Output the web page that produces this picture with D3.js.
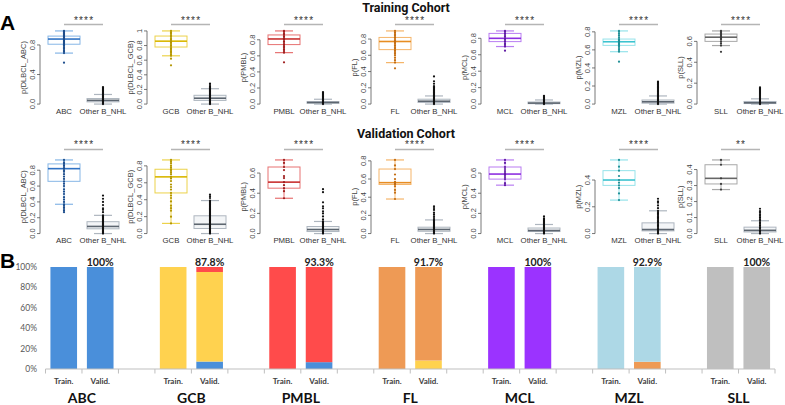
<!DOCTYPE html>
<html><head><meta charset="utf-8">
<script src="https://cdn.jsdelivr.net/npm/d3@7"></script>
<style>body{margin:0;background:#fff}svg{display:block}</style>
</head><body><svg id="c" width="785" height="405"></svg>
<script>
// ---------------- DATA ----------------
const classes = ["ABC","GCB","PMBL","FL","MCL","MZL","SLL"];
const otherLabel = "Other B_NHL";
const yTitles = ["p(DLBCL_ABC)","p(DLBCL_GCB)","p(PMBL)","p(FL)","p(MCL)","p(MZL)","p(SLL)"];
const trainSig = ["****","****","****","****","****","****","****"];
const validSig = ["****","****","****","****","****","****","**"];
const trainTicks = [
  ["0.0","0.4","0.8"],
  ["0.0","0.2","0.4","0.6","0.8","1"],
  ["0.0","0.2","0.4","0.6","0.8"],
  ["0.0","0.2","0.4","0.6","0.8"],
  ["0.0","0.2","0.4","0.6","0.8"],
  ["0.0","0.2","0.4","0.6","0.8"],
  ["0.0","0.2","0.4","0.6"]];
const validTicks = [
  ["0.0","0.2","0.4","0.6","0.8"],
  ["0.0","0.2","0.4","0.6","0.8"],
  ["0.0","0.2","0.4","0.6"],
  ["0.0","0.2","0.4","0.6","0.8"],
  ["0.0","0.2","0.4","0.6"],
  ["0.0","0.2","0.4"],
  ["0.0","0.1","0.2","0.3","0.4"]];
// box stats: [whiskerLow, q1, median, q3, whiskerHigh]
const trainBoxTarget = [[0.69,0.81,0.88,0.92,0.99],[0.66,0.78,0.86,0.93,1.00],[0.64,0.74,0.81,0.86,0.91],[0.51,0.67,0.77,0.82,0.90],[0.70,0.76,0.80,0.86,0.89],[0.58,0.65,0.69,0.72,0.81],[0.56,0.60,0.64,0.67,0.70]];
const trainBoxOther  = [[0,0.03,0.05,0.075,0.13],[0,0.05,0.08,0.12,0.21],[0,0.01,0.02,0.03,0.06],[0,0.02,0.035,0.06,0.10],[0,0.005,0.012,0.025,0.05],[0,0.01,0.025,0.045,0.09],[0,0.005,0.012,0.025,0.05]];
const validBoxTarget = [[0.37,0.66,0.82,0.88,0.93],[0.12,0.48,0.67,0.76,0.87],[0.35,0.45,0.51,0.66,0.73],[0.38,0.54,0.56,0.71,0.81],[0.48,0.54,0.59,0.66,0.73],[0.25,0.36,0.40,0.47,0.55],[0.275,0.31,0.345,0.43,0.46]];
const validBoxOther  = [[0,0.06,0.09,0.15,0.23],[0,0.06,0.11,0.21,0.39],[0,0.02,0.04,0.07,0.12],[0,0.025,0.045,0.07,0.15],[0,0.02,0.03,0.055,0.09],[0,0.02,0.03,0.08,0.17],[0,0.01,0.02,0.04,0.08]];
// individual sample points
const trainPtsTarget = [
 [0.56,0.69,0.71,0.73,0.75,0.77,0.79,0.80,0.81,0.82,0.83,0.84,0.85,0.86,0.87,0.88,0.89,0.90,0.91,0.92,0.93,0.94,0.95,0.96,0.97,0.98,0.99],
 [0.53,0.62,0.66,0.68,0.70,0.72,0.74,0.76,0.78,0.80,0.82,0.84,0.86,0.88,0.90,0.92,0.94,0.96,0.98,1.00],
 [0.52,0.64,0.66,0.68,0.70,0.72,0.74,0.76,0.78,0.80,0.81,0.82,0.84,0.86,0.88,0.90,0.91],
 [0.44,0.51,0.54,0.57,0.60,0.62,0.64,0.66,0.68,0.70,0.72,0.74,0.76,0.77,0.78,0.80,0.82,0.84,0.86,0.88,0.90],
 [0.65,0.70,0.72,0.74,0.76,0.78,0.80,0.82,0.84,0.86,0.88,0.89],
 [0.47,0.58,0.60,0.62,0.64,0.65,0.66,0.67,0.68,0.69,0.70,0.71,0.72,0.74,0.76,0.78,0.80,0.81],
 [0.50,0.56,0.58,0.60,0.62,0.63,0.64,0.65,0.66,0.67,0.68,0.69,0.70]];
const trainPtsOther = [
 [0,0.01,0.02,0.03,0.04,0.05,0.06,0.07,0.08,0.09,0.10,0.11,0.12,0.13,0.14,0.15,0.16,0.17,0.18,0.19,0.20,0.21,0.22,0.23],
 [0,0.01,0.02,0.03,0.04,0.05,0.06,0.07,0.08,0.09,0.10,0.11,0.12,0.13,0.14,0.15,0.16,0.17,0.18,0.19,0.20,0.21,0.22,0.23,0.24,0.26,0.28],
 [0,0.01,0.02,0.03,0.04,0.05,0.06,0.07,0.08,0.09,0.10,0.11,0.12,0.13,0.14,0.15],
 [0,0.01,0.02,0.03,0.04,0.05,0.06,0.07,0.08,0.09,0.10,0.11,0.12,0.13,0.14,0.15,0.16,0.17,0.18,0.19,0.20,0.21,0.22,0.25,0.28,0.34],
 [0,0.01,0.02,0.03,0.04,0.05,0.06,0.07,0.08,0.09,0.10],
 [0,0.01,0.02,0.03,0.04,0.05,0.06,0.07,0.08,0.09,0.10,0.11,0.12,0.13,0.14,0.15,0.16,0.17,0.18,0.19,0.20,0.21,0.22,0.23,0.24,0.25],
 [0,0.01,0.02,0.03,0.04,0.05,0.06,0.07,0.08,0.09,0.10,0.11,0.12,0.13,0.14,0.15,0.16]];
const validPtsTarget = [
 [0.27,0.29,0.31,0.33,0.35,0.37,0.40,0.43,0.46,0.50,0.53,0.56,0.60,0.63,0.66,0.69,0.72,0.75,0.78,0.80,0.82,0.84,0.86,0.88,0.90,0.93],
 [0.12,0.20,0.27,0.30,0.33,0.38,0.42,0.45,0.48,0.52,0.55,0.58,0.62,0.65,0.67,0.70,0.72,0.74,0.76,0.78,0.80,0.83,0.85,0.87],
 [0.35,0.42,0.45,0.48,0.51,0.55,0.57,0.63,0.66,0.70,0.73],
 [0.38,0.45,0.48,0.52,0.54,0.55,0.56,0.57,0.60,0.65,0.71,0.75,0.81],
 [0.48,0.50,0.54,0.56,0.58,0.59,0.60,0.62,0.64,0.66,0.70,0.73],
 [0.25,0.30,0.34,0.36,0.38,0.40,0.43,0.47,0.50,0.55],
 [0.275,0.31,0.345,0.43,0.46]];
const validPtsOther = [
 [0,0.01,0.02,0.03,0.04,0.05,0.06,0.07,0.08,0.09,0.10,0.11,0.12,0.13,0.14,0.15,0.16,0.17,0.18,0.19,0.20,0.21,0.22,0.23,0.27,0.30,0.32,0.36,0.40,0.44,0.48],
 [0,0.01,0.02,0.03,0.04,0.05,0.06,0.07,0.08,0.09,0.10,0.11,0.12,0.13,0.14,0.15,0.16,0.17,0.18,0.19,0.20,0.21,0.22,0.23,0.24,0.25,0.26,0.27,0.28,0.29,0.30,0.31,0.32,0.33,0.34,0.35,0.36,0.37,0.38,0.39,0.42,0.44,0.46],
 [0,0.01,0.02,0.03,0.04,0.05,0.06,0.07,0.08,0.09,0.10,0.11,0.12,0.14,0.17,0.20,0.22,0.25,0.27,0.31,0.41,0.44],
 [0,0.01,0.02,0.03,0.04,0.05,0.06,0.07,0.08,0.09,0.10,0.11,0.12,0.13,0.14,0.15,0.17,0.19,0.21,0.23,0.26,0.28,0.30],
 [0,0.01,0.02,0.03,0.04,0.05,0.06,0.07,0.08,0.09,0.10,0.11,0.12,0.13,0.14,0.15,0.17],
 [0,0.01,0.02,0.03,0.04,0.05,0.06,0.07,0.08,0.09,0.10,0.11,0.12,0.13,0.14,0.15,0.16,0.17,0.19,0.21,0.23,0.24,0.26],
 [0,0.01,0.02,0.03,0.04,0.05,0.06,0.07,0.08,0.09,0.10,0.11,0.12,0.13,0.14,0.155]];
// panel B: stacked composition of predictions (series order = classes)
const cohorts = ["Train.","Valid."];
const trainShares = [
 [1,0,0,0,0,0,0],[0,1,0,0,0,0,0],[0,0,1,0,0,0,0],[0,0,0,1,0,0,0],[0,0,0,0,1,0,0],[0,0,0,0,0,1,0],[0,0,0,0,0,0,1]];
const validShares = [
 [1,0,0,0,0,0,0],
 [0.073,0.878,0.049,0,0,0,0],
 [0.067,0,0.933,0,0,0,0],
 [0,0.083,0,0.917,0,0,0],
 [0,0,0,0,1,0,0],
 [0,0,0,0.071,0,0.929,0],
 [0,0,0,0,0,0,1]];
const validAccLabels = ["100%","87.8%","93.3%","91.7%","100%","92.9%","100%"];
const barTickLabels = ["0%","20%","40%","60%","80%","100%"];

// ---------------- STYLE ----------------
const barColors = ["#4A8FDA","#FFD24F","#FF4B4B","#EE9A55","#9B33FF","#ADD8E6","#BFBFBF"];
const boxLight  = ["#86b6e6","#ecd24a","#e77272","#f5b56a","#b97df2","#95e3ea","#a8a8a8"];
const boxDark   = ["#2f72c4","#d9b700","#c8302f","#e78d23","#8d2fe0","#3cc3cf","#666666"];
const ptDark    = ["#1d4d8c","#b39600","#9e1d1d","#c36c12","#5f1aa3","#1f8f96","#3a3a3a"];

const svg = d3.select("#c");
const RF = "'Liberation Sans', Arial, sans-serif";
const CF = "Lato, 'Open Sans', sans-serif";
const TF = "Roboto, 'Liberation Sans', sans-serif";

const panelAxisX = [40,147,260,371,481,595,697];
const rows = [
  {title:"Training Cohort", titleY:11.8, top:28, bottom:107, labY:114, sigY:24.5, sigText:24,
   boxT:trainBoxTarget, boxO:trainBoxOther, ptsT:trainPtsTarget, ptsO:trainPtsOther, ticks:trainTicks, sig:trainSig},
  {title:"Validation Cohort", titleY:137.5, top:157, bottom:236.5, labY:243, sigY:149.5, sigText:148,
   boxT:validBoxTarget, boxO:validBoxOther, ptsT:validPtsTarget, ptsO:validPtsOther, ticks:validTicks, sig:validSig}
];

svg.append("text").attr("x",0).attr("y",30).attr("font-family",RF).attr("font-weight","bold")
  .attr("font-size",21).text("A");
svg.append("text").attr("x",0).attr("y",268).attr("font-family",RF).attr("font-weight","bold")
  .attr("font-size",21).text("B");

rows.forEach(row => {
  svg.append("text").attr("x",406).attr("y",row.titleY).attr("text-anchor","middle")
    .attr("font-family",TF).attr("font-weight","bold").attr("font-size",12.5).attr("fill","#111")
    .text(row.title);
  classes.forEach((cls,i) => {
    const ax = panelAxisX[i];
    const g = svg.append("g");
    const all = row.ptsT[i].concat(row.ptsO[i], row.boxT[i], row.boxO[i]);
    const ext = d3.extent(all), r = ext[1]-ext[0];
    const y = d3.scaleLinear().domain([ext[0]-0.04*r, ext[1]+0.04*r]).range([row.bottom,row.top]);
    const x = d3.scalePoint().domain([cls, otherLabel]).range([ax+24, ax+63]);
    const bw = 32, cw = 18;
    const groups = [
      {k:cls, box:row.boxT[i], pts:row.ptsT[i], light:boxLight[i], dark:boxDark[i], pt:ptDark[i], fill:"#ffffff"},
      {k:otherLabel, box:row.boxO[i], pts:row.ptsO[i], light:"#aeb6bf", dark:"#5d6670", pt:"#111111", fill:"#f3f5f7"}
    ];
    groups.forEach(d => {
      const cx = x(d.k), b = d.box;
      g.append("line").attr("x1",cx).attr("x2",cx).attr("y1",y(b[3])).attr("y2",y(b[4])).attr("stroke",d.light).attr("stroke-width",1);
      g.append("line").attr("x1",cx).attr("x2",cx).attr("y1",y(b[1])).attr("y2",y(b[0])).attr("stroke",d.light).attr("stroke-width",1);
      g.append("line").attr("x1",cx-cw/2).attr("x2",cx+cw/2).attr("y1",y(b[4])).attr("y2",y(b[4])).attr("stroke",d.light).attr("stroke-width",1.2);
      g.append("line").attr("x1",cx-cw/2).attr("x2",cx+cw/2).attr("y1",y(b[0])).attr("y2",y(b[0])).attr("stroke",d.light).attr("stroke-width",1.2);
      g.append("rect").attr("x",cx-bw/2).attr("width",bw).attr("y",y(b[3])).attr("height",Math.max(0.5,y(b[1])-y(b[3])))
        .attr("fill",d.fill).attr("stroke",d.light).attr("stroke-width",1);
      g.append("line").attr("x1",cx-bw/2).attr("x2",cx+bw/2).attr("y1",y(b[2])).attr("y2",y(b[2])).attr("stroke",d.dark).attr("stroke-width",1.6);
      g.selectAll(null).data(d.pts).enter().append("circle")
        .attr("cx",cx).attr("cy",v=>y(v)).attr("r",1.1).attr("fill",d.pt);
      g.append("text").attr("x",cx).attr("y",row.labY).attr("text-anchor","middle")
        .attr("font-family",RF).attr("font-size",7.8).attr("fill","#333").text(d.k);
    });
    const tv = row.ticks[i].map(Number);
    g.append("line").attr("x1",ax).attr("x2",ax).attr("y1",y(tv[0])).attr("y2",y(tv[tv.length-1])).attr("stroke","#555").attr("stroke-width",0.8);
    row.ticks[i].forEach(t => {
      const ty = y(+t);
      g.append("line").attr("x1",ax-3).attr("x2",ax).attr("y1",ty).attr("y2",ty).attr("stroke","#555").attr("stroke-width",0.8);
      g.append("text").attr("transform",`translate(${ax-5},${ty}) rotate(-90)`).attr("text-anchor","middle")
        .attr("font-family",RF).attr("font-size",7.5).attr("fill","#444").text(t);
    });
    g.append("text").attr("transform",`translate(${ax-14},${(row.top+row.bottom)/2}) rotate(-90)`).attr("text-anchor","middle")
      .attr("font-family",RF).attr("font-size",7.5).attr("fill","#444").text(yTitles[i]);
    g.append("line").attr("x1",x(cls)).attr("x2",x(otherLabel)).attr("y1",row.sigY).attr("y2",row.sigY)
      .attr("stroke","#b5b5b5").attr("stroke-width",1.3);
    g.append("text").attr("x",(x(cls)+x(otherLabel))/2+0.6).attr("y",row.sigText).attr("text-anchor","middle")
      .attr("font-family",RF).attr("font-size",10).attr("letter-spacing",1.2).attr("fill","#333").text(row.sig[i]);
  });
});

// ---------------- PANEL B ----------------
const slots = [];
classes.forEach((g,i) => {
  slots.push(g+"|"+cohorts[0]); slots.push(g+"|"+cohorts[1]);
  if (i < classes.length-1) slots.push(g+"|gap");
});
const bx = d3.scaleBand().domain(slots).range([45.5,775]).paddingInner(0.27).paddingOuter(0.135);
const by = d3.scaleLinear().domain([0,1]).range([369,267]);
const step = bx.step(), half = (step - bx.bandwidth())/2;

const barRows = [];
classes.forEach((g,i) => {
  [trainShares[i], validShares[i]].forEach((sh,j) => {
    const o = {slot:g+"|"+cohorts[j]};
    classes.forEach((c,k) => o[c] = sh[k]);
    barRows.push(o);
  });
});
const stacked = d3.stack().keys(classes)(barRows);
const gb = svg.append("g");
stacked.forEach((s,k) => {
  gb.selectAll(null).data(s.filter(d => d[1]-d[0] > 0)).enter().append("rect")
    .attr("x",d=>bx(d.data.slot)).attr("width",bx.bandwidth())
    .attr("y",d=>by(d[1])).attr("height",d=>by(d[0])-by(d[1]))
    .attr("fill",barColors[k]);
});
gb.append("line").attr("x1",45.5).attr("x2",775).attr("y1",369).attr("y2",369).attr("stroke","#bfbfbf").attr("stroke-width",1);
const bounds = slots.map(s => bx(s)-half).concat([bx(slots[slots.length-1])+bx.bandwidth()+half]);
bounds.forEach(b => gb.append("line").attr("x1",b).attr("x2",b).attr("y1",369).attr("y2",373.5).attr("stroke","#bfbfbf").attr("stroke-width",1));
barTickLabels.forEach((t,i) => {
  gb.append("text").attr("x",37).attr("y",by(i/5)+3).attr("text-anchor","end")
    .attr("font-family",CF).attr("font-size",8.5).attr("fill","#595959").text(t);
});
classes.forEach((g,i) => {
  cohorts.forEach(c => {
    gb.append("text").attr("x",bx(g+"|"+c)+bx.bandwidth()/2).attr("y",384).attr("text-anchor","middle")
      .attr("font-family",CF).attr("font-weight","bold").attr("font-size",8).attr("fill","#404040").text(c);
  });
  const vx = bx(g+"|"+cohorts[1])+bx.bandwidth()/2;
  gb.append("text").attr("x",vx).attr("y",265.5).attr("text-anchor","middle")
    .attr("font-family",CF).attr("font-weight","bold").attr("font-size",10.5).attr("fill","#222").text(validAccLabels[i]);
  const gx = (bx(g+"|"+cohorts[0]) + bx(g+"|"+cohorts[1]) + bx.bandwidth())/2;
  gb.append("text").attr("x",gx).attr("y",402.5).attr("text-anchor","middle")
    .attr("font-family",CF).attr("font-weight","bold").attr("font-size",14).attr("fill","#111").text(g);
});
</script></body></html>
